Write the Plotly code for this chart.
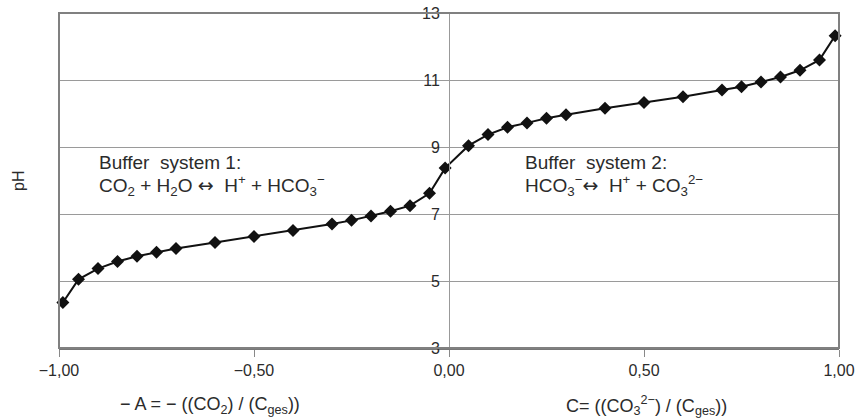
import plotly.graph_objects as go

# Data
x_vals = [-0.99, -0.95, -0.90, -0.85, -0.80, -0.75, -0.70, -0.60, -0.50, -0.40,
          -0.30, -0.25, -0.20, -0.15, -0.10, -0.05, -0.01,
          0.05, 0.10, 0.15, 0.20, 0.25, 0.30, 0.40, 0.50, 0.60, 0.70, 0.75,
          0.80, 0.85, 0.90, 0.95, 0.99]
ph_vals = [4.36, 5.05, 5.37, 5.58, 5.74, 5.86, 5.97, 6.15, 6.33, 6.51,
           6.70, 6.81, 6.94, 7.08, 7.25, 7.62, 8.37,
           9.04, 9.37, 9.59, 9.72, 9.86, 9.96, 10.16, 10.33, 10.50, 10.70, 10.80,
           10.94, 11.09, 11.29, 11.60, 12.32]

x_tickvals = [-1, -0.5, 0, 0.5, 1]
x_ticktext = ["\u22121,00", "\u22120,50", "0,00", "0,50", "1,00"]
y_tickvals = [3, 5, 7, 9, 11, 13]

FONT = "Liberation Sans, Arial, sans-serif"
TXT = "#2b2b2b"
GRID = "#9a9a9a"
ARROW = '<span style="font-family:DejaVu Sans">\u2194</span>'

fig = go.Figure()
fig.add_trace(go.Scatter(
    x=x_vals, y=ph_vals, mode="lines+markers",
    line=dict(color="#111111", width=2),
    marker=dict(symbol="diamond", size=10, color="#111111"),
    showlegend=False, cliponaxis=False,
))

fig.update_layout(
    width=864, height=420,
    margin=dict(l=59, r=25, t=13, b=72, autoexpand=False),
    paper_bgcolor="white", plot_bgcolor="white",
    font=dict(family=FONT, size=16, color=TXT),
    xaxis=dict(
        range=[-1, 1], tickvals=x_tickvals, ticktext=x_ticktext,
        ticks="outside", ticklen=7, tickcolor="#888888", tickwidth=1,
        showgrid=False, zeroline=False, showline=True, linecolor="#777777", linewidth=2,
        tickfont=dict(size=16, color=TXT), automargin=False,
    ),
    yaxis=dict(
        range=[3, 13], tickvals=y_tickvals, ticks="",
        showgrid=True, gridcolor=GRID, gridwidth=1,
        zeroline=False, showline=True, linecolor="#999999", linewidth=1,
        anchor="free", position=0.5, ticklabelstandoff=6, ticklabeloverflow="allow",
        tickfont=dict(size=16, color=TXT), automargin=False,
    ),
    shapes=[dict(type="rect", xref="paper", yref="paper", x0=0, x1=1, y0=0, y1=1,
                 line=dict(color="#808080", width=2), layer="above")],
)

ann = [
    dict(text="pH", x=-0.052, y=0.5, xref="paper", yref="paper", textangle=-90,
         xanchor="center", yanchor="middle",
         showarrow=False, font=dict(size=16, color=TXT)),
    dict(text="\u2212 A = \u2212 ((CO<sub>2</sub>) / (C<sub>ges</sub>))", x=0.194, y=-0.173,
         xref="paper", yref="paper", showarrow=False, xanchor="center", yanchor="middle",
         font=dict(size=18, color=TXT)),
    dict(text="C= ((CO<sub>3</sub><sup>2\u2212</sup>) / (C<sub>ges</sub>))", x=0.753, y=-0.173,
         xref="paper", yref="paper", showarrow=False, xanchor="center", yanchor="middle",
         font=dict(size=18, color=TXT)),
    dict(text="Buffer\u00a0 system 1:", x=-0.903, y=8.55, xref="x", yref="y",
         xanchor="left", showarrow=False, font=dict(size=19, color=TXT)),
    dict(text="CO<sub>2</sub> + H<sub>2</sub>O " + ARROW + "\u00a0 H<sup>+</sup> + HCO<sub>3</sub><sup>\u2212</sup>",
         x=-0.903, y=7.85, xref="x", yref="y", xanchor="left", showarrow=False,
         font=dict(size=19, color=TXT)),
    dict(text="Buffer\u00a0 system 2:", x=0.19, y=8.55, xref="x", yref="y",
         xanchor="left", showarrow=False, font=dict(size=19, color=TXT)),
    dict(text="HCO<sub>3</sub><sup>\u2212</sup>" + ARROW + "\u00a0 H<sup>+</sup> + CO<sub>3</sub><sup>2\u2212</sup>",
         x=0.19, y=7.85, xref="x", yref="y", xanchor="left", showarrow=False,
         font=dict(size=19, color=TXT)),
]
fig.update_layout(annotations=ann)

# remove the default 8px page margin so the figure fills the window exactly
fig.write_html("out.html", config={"displayModeBar": False},
               post_script="document.body.style.margin='0px';")
